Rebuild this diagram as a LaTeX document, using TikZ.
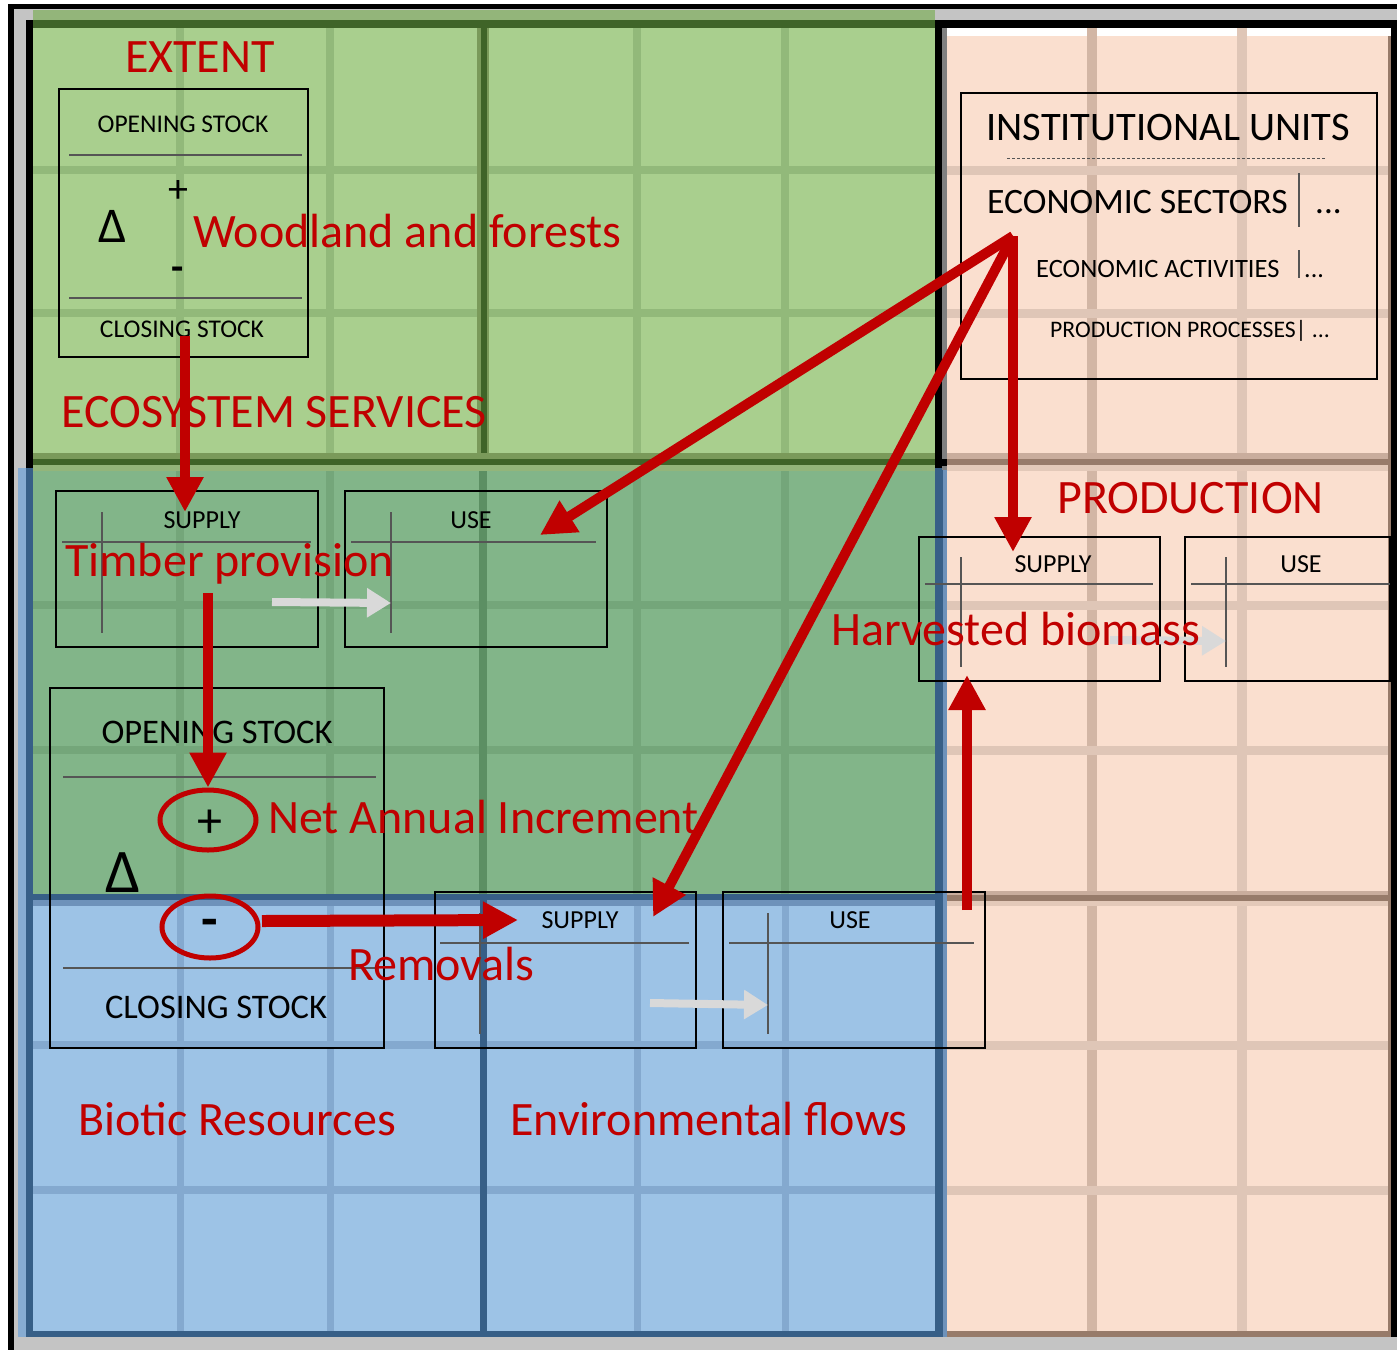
\documentclass[tikz,border=0pt]{standalone}
\usepackage{fontspec}
\setmainfont{Carlito}
\usetikzlibrary{arrows.meta,shapes.geometric}
\definecolor{grayBG}{HTML}{C4C4C4}
\definecolor{gTop}{HTML}{A9CF8E}
\definecolor{gTopStrip}{HTML}{93B57A}
\definecolor{gDark}{HTML}{3F6428}
\definecolor{gGrid}{HTML}{92B97A}
\definecolor{gBand}{HTML}{7A9A5A}
\definecolor{gMid}{HTML}{82B589}
\definecolor{gMidGrid}{HTML}{74A67A}
\definecolor{gMidDark}{HTML}{5C8F63}
\definecolor{bFill}{HTML}{9DC3E6}
\definecolor{bGrid}{HTML}{84A9CF}
\definecolor{bDark}{HTML}{375F87}
\definecolor{bStrip}{HTML}{87ACD2}
\definecolor{bBand}{HTML}{6E92BA}
\definecolor{pFill}{HTML}{FADFCF}
\definecolor{pGrid}{HTML}{DFC6B7}
\definecolor{pGridB}{HTML}{D2B6A5}
\definecolor{pDark}{HTML}{977B6A}
\definecolor{pBand}{HTML}{C9AD9D}
\definecolor{pBandL}{HTML}{E3C9B9}
\definecolor{redC}{HTML}{C00000}
\definecolor{grayArrow}{HTML}{D9D9D9}
\definecolor{innerLine}{HTML}{555555}
\newcommand\rlabfont{\fontsize{48}{57}\selectfont}
\begin{document}
\begin{tikzpicture}[x=1pt,y=-1pt,
  rlab/.style={text=redC,font=\rlabfont,inner sep=0pt},
  blk/.style={text=black,inner sep=0pt},
  boxst/.style={draw=black,line width=1.4pt,inner sep=0pt},
  inl/.style={draw=innerLine,line width=1.4pt},
  rarrow/.style={draw=redC,line width=10pt,-{Triangle[length=35pt,width=35pt]}},
  garrow/.style={draw=grayArrow,line width=8pt,-{Triangle[length=24pt,width=28pt]}},
  ring/.style={draw=redC,line width=5pt,ellipse,inner sep=0pt}]
\useasboundingbox (0,0) rectangle (1397,1350);
% ---------- frame ----------
\fill[white] (0,0) rectangle (1397,1350);
\fill[grayBG] (8,4) rectangle (1397,1350);
\fill[black] (8,4) rectangle (1397,9);
\fill[black] (8,4) rectangle (14,1350);
\fill[black] (26,20) rectangle (1397,28);
\fill[black] (26,20) rectangle (33,470);
\fill[black] (935,20) rectangle (942,470);
\fill[black] (1391,20) rectangle (1397,1337);
% ---------- green top ----------
\fill[gTopStrip] (33,10) rectangle (935,20);
\fill[gDark] (33,20) rectangle (935,28);
\fill[gTop] (33,28) rectangle (935,453);
\begin{scope}
\clip (33,28) rectangle (935,453);
\foreach \gx in {180,330,637,785} \draw[gGrid,line width=8pt] (\gx,28) -- (\gx,453);
\foreach \gy in {170,313} \draw[gGrid,line width=8pt] (33,\gy) -- (935,\gy);
\draw[gBand,line width=12pt] (483,28) -- (483,453);
\draw[gDark,line width=6pt] (484,28) -- (484,453);
\end{scope}
\fill[gBand] (33,453) rectangle (935,459);
\fill[gDark] (33,459) rectangle (935,465);
\fill[gTopStrip] (33,465) rectangle (935,471);
% ---------- green middle ----------
\fill[gMid] (33,471) rectangle (935,895);
\begin{scope}
\clip (33,471) rectangle (935,895);
\foreach \gx in {180,330,637,785} \draw[gMidGrid,line width=8pt] (\gx,471) -- (\gx,895);
\foreach \gy in {605,750} \draw[gMidGrid,line width=8pt] (33,\gy) -- (935,\gy);
\draw[gMidDark,line width=8pt] (483,471) -- (483,895);
\end{scope}
% ---------- blue ----------
\fill[bFill] (33,900) rectangle (935,1331);
\begin{scope}
\clip (33,900) rectangle (935,1331);
\foreach \gx in {180,330,637,785} \draw[bGrid,line width=7pt] (\gx,900) -- (\gx,1331);
\foreach \gy in {1045,1190} \draw[bGrid,line width=8pt] (33,\gy) -- (935,\gy);
\end{scope}
\fill[bBand] (33,900) rectangle (935,906);
\fill[bDark] (480,900) rectangle (487,1331);
\fill[bStrip] (18,468) rectangle (26,1337);
\fill[bDark] (26,468) rectangle (33,1337);
\fill[bDark] (26,894) rectangle (945,900);
\fill[bDark] (26,1331) rectangle (945,1337);
\fill[bDark] (935,468) rectangle (943,1337);
\fill[bBand] (943,468) rectangle (947,1337);
% ---------- peach ----------
\fill[white] (942,28) rectangle (1391,36);
\fill[gray] (942,28) rectangle (947,470);
\fill[pFill] (947,36) rectangle (1390,1331);
\begin{scope}
\clip (947,28) rectangle (1390,1331);
\draw[pGridB,line width=10pt] (1092,28) -- (1092,1331);
\draw[pGrid,line width=10pt] (1242,28) -- (1242,1331);
\foreach \gy in {170,313,605,750,1045,1190} \draw[pGrid,line width=9pt] (947,\gy) -- (1390,\gy);
\end{scope}
\fill[pBand] (947,453) rectangle (1390,459);
\fill[pDark] (947,459) rectangle (1390,465);
\fill[pBandL] (947,465) rectangle (1390,471);
\fill[pBand] (947,891) rectangle (1390,895);
\fill[pDark] (947,895) rectangle (1390,901);
\fill[pBandL] (947,901) rectangle (1390,906);
\fill[pDark] (947,1331) rectangle (1391,1337);
\fill[pDark] (1388,36) rectangle (1391,1337);
\fill[black] (935,459) rectangle (947,466);
% ---------- EXTENT block ----------
\node[rlab,anchor=base] (extent) at (200,72) {EXTENT};
\node[boxst,minimum width=249pt,minimum height=268pt] (extBox) at (183.5,223) {};
\draw[inl] (69,155) -- (302,155);
\draw[inl] (69,298) -- (302,298);
\node[blk,font=\fontsize{25.5}{30}\selectfont,anchor=base] (os1) at (183,132) {OPENING STOCK};
\node[blk,font=\fontsize{25.5}{30}\selectfont,anchor=base] (cs1) at (182,337) {CLOSING STOCK};
\node[blk,font=\fontsize{50}{60}\selectfont,anchor=base] (d1) at (113,242) {Δ};
\node[blk,font=\fontsize{40}{48}\selectfont] (p1) at (178,191) {+};
\node[blk,font=\bfseries\fontsize{40}{48}\selectfont] (m1) at (178,274) {-};
\node[rlab,anchor=base west] (wood) at (193,247) {Woodland and forests};
\node[rlab,anchor=base west] (ecos) at (61,427) {ECOSYSTEM SERVICES};
% ---------- timber supply / use ----------
\node[boxst,minimum width=262pt,minimum height=156pt] (tsup) at (187,569) {};
\draw[inl] (62,542) -- (311,542);
\draw[inl] (102,512) -- (102,633);
\node[blk,font=\fontsize{26}{31}\selectfont,anchor=base] (tsupL) at (202,528) {SUPPLY};
\node[boxst,minimum width=262pt,minimum height=156pt] (tuse) at (476,569) {};
\draw[inl] (351,542) -- (596,542);
\draw[inl] (391,512) -- (391,633);
\node[blk,font=\fontsize{26}{31}\selectfont,anchor=base] (tuseL) at (471,528) {USE};
\coordinate (tg1) at (272,602);
\coordinate (tg2) at (391,603);
\draw[garrow] (tg1) -- (tg2);
\node[rlab,anchor=base west] (timber) at (65,576) {Timber provision};
% ---------- biotic stock ----------
\node[boxst,minimum width=334pt,minimum height=360pt] (bioBox) at (217,868) {};
\draw[inl] (63,777) -- (376,777);
\draw[inl] (63,968) -- (378,968);
\node[blk,font=\fontsize{34.5}{41}\selectfont,anchor=base] (os2) at (217,743) {OPENING STOCK};
\node[blk,font=\fontsize{34.5}{41}\selectfont,anchor=base] (cs2) at (216,1018) {CLOSING STOCK};
\node[blk,font=\fontsize{62}{74}\selectfont,anchor=base] (d2) at (123,892) {Δ};
\node[ring,minimum width=96pt,minimum height=60pt] (plusE) at (208,820) {};
\node[blk,font=\fontsize{50}{60}\selectfont] (p2) at (210,824) {+};
\node[ring,minimum width=96pt,minimum height=62pt] (minusE) at (210,927) {};
\node[blk,font=\bfseries\fontsize{54}{64}\selectfont] (m2) at (210,928) {-};
\node[rlab,anchor=base west] (nai) at (268,833) {Net Annual Increment};
% ---------- environmental flows ----------
\node[boxst,minimum width=261pt,minimum height=156pt] (esup) at (565.5,970) {};
\draw[inl] (440,943) -- (689,943);
\draw[inl] (480,913) -- (480,1034);
\node[blk,font=\fontsize{26}{31}\selectfont,anchor=base] (esupL) at (580,928) {SUPPLY};
\node[boxst,minimum width=262pt,minimum height=156pt] (euse) at (854,970) {};
\draw[inl] (729,943) -- (974,943);
\draw[inl] (768,913) -- (768,1034);
\node[blk,font=\fontsize{26}{31}\selectfont,anchor=base] (euseL) at (850,928) {USE};
\coordinate (eg1) at (650,1003);
\coordinate (eg2) at (768,1005);
\draw[garrow] (eg1) -- (eg2);
\node[rlab,anchor=base west] (remov) at (348,980) {Removals};
\node[rlab,anchor=base west] (biotic) at (78,1135) {Biotic Resources};
\node[rlab,anchor=base west] (envf) at (510,1135) {Environmental flows};
% ---------- production ----------
\node[rlab,anchor=base] (prod) at (1190.5,513) {PRODUCTION};
\node[boxst,minimum width=241pt,minimum height=144pt] (psup) at (1039.5,609) {};
\draw[inl] (925,584) -- (1153,584);
\draw[inl] (961,557) -- (961,667);
\node[blk,font=\fontsize{26}{31}\selectfont,anchor=base] (psupL) at (1053,572) {SUPPLY};
\node[boxst,minimum width=205pt,minimum height=144pt] (puse) at (1287.5,609) {};
\draw[inl] (1191,584) -- (1390,584);
\draw[inl] (1226,557) -- (1226,667);
\node[blk,font=\fontsize{26}{31}\selectfont,anchor=base] (puseL) at (1301,572) {USE};
\coordinate (pg1) at (1110,640);
\coordinate (pg2) at (1226,641);
\draw[garrow] (pg1) -- (pg2);
\node[rlab,anchor=base west] (harv) at (831,645) {Harvested biomass};
% ---------- institutional units ----------
\node[boxst,minimum width=416pt,minimum height=286pt] (instBox) at (1169,236) {};
\node[blk,font=\fontsize{40.5}{48}\selectfont,anchor=base] (instL) at (1168,140) {INSTITUTIONAL UNITS};
\draw[innerLine,line width=1pt,dash pattern=on 3pt off 2pt] (1007,158) -- (1325,158);
\node[blk,font=\fontsize{35.7}{42}\selectfont,anchor=base west] (ecsec) at (987,213) {ECONOMIC SECTORS};
\draw[inl] (1299,173) -- (1299,227);
\node[blk,font=\fontsize{35}{42}\selectfont,anchor=base west] (ecsecD) at (1315,213) {...};
\node[blk,font=\fontsize{26.5}{32}\selectfont,anchor=base west] (ecact) at (1036,277) {ECONOMIC ACTIVITIES};
\draw[inl] (1299,250) -- (1299,278);
\node[blk,font=\fontsize{26}{31}\selectfont,anchor=base west] (ecactD) at (1304,277) {...};
\node[blk,font=\fontsize{23.7}{28}\selectfont,anchor=base west] (pproc) at (1050,337) {PRODUCTION PROCESSES| ...};
% ---------- red arrows ----------
\coordinate (hub) at (1013,236);
\coordinate (tuseTip) at (540,535);
\coordinate (esupTip) at (653,917);
\coordinate (psupTip) at (1013,552);
\coordinate (extTail) at (185,336);
\coordinate (tsupTip) at (185,512);
\coordinate (timTail) at (208,593);
\coordinate (remTail) at (262,921);
\coordinate (remTip) at (518,920);
\coordinate (upTail) at (967,910);
\coordinate (upTip) at (967,675);
\draw[rarrow] (extTail) -- (tsupTip);
\draw[rarrow] (timTail) -- (plusE.north);
\draw[rarrow,line width=12pt] (remTail) -- (remTip);
\draw[rarrow] (hub) -- (tuseTip);
\draw[rarrow] (hub) -- (esupTip);
\draw[rarrow] (hub) -- (psupTip);
\draw[rarrow] (upTail) -- (upTip);
\end{tikzpicture}
\end{document}
